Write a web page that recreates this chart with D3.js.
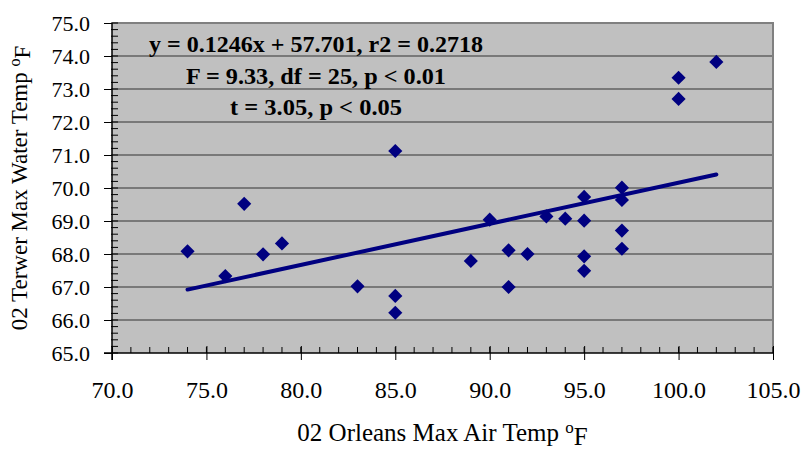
<!DOCTYPE html>
<html>
<head>
<meta charset="utf-8">
<script src="https://d3js.org/d3.v7.min.js"></script>
<style>
body { margin: 0; background: #fff; }
text { font-family: "Liberation Serif", "Times New Roman", serif; fill: #000; }
</style>
</head>
<body>
<div id="chart"></div>
<script>
// air temp (x) and water temp (y)
var airTemp = [74, 76, 77, 78, 79, 83, 85, 85, 85, 89, 90, 91, 91, 92, 93, 94,
               95, 95, 95, 95, 97, 97, 97, 97, 100, 100, 102];
var waterTemp = [68.08, 67.33, 69.52, 67.99, 68.32, 67.02, 66.73, 66.22, 71.12, 67.79, 69.04, 68.11, 67.0, 68.0, 69.14, 69.07,
                 69.73, 69.01, 67.93, 67.49, 70.01, 69.64, 68.71, 68.16, 73.34, 72.70, 73.82];
var xTicks = [70, 75, 80, 85, 90, 95, 100, 105];
var yTicks = [65, 66, 67, 68, 69, 70, 71, 72, 73, 74, 75];
var slope = 0.1246, intercept = 57.701;
var statLines = ["y = 0.1246x + 57.701, r2 = 0.2718", "F = 9.33, df = 25, p < 0.01", "t = 3.05, p < 0.05"];

var W = 805, H = 449;
var margin = {top: 23, right: 32, bottom: 96, left: 112};
var width = W - margin.left - margin.right,
    height = H - margin.top - margin.bottom;

var x = d3.scaleLinear().domain([70, 105]).range([0, width]);
var y = d3.scaleLinear().domain([65, 75]).range([height, 0]);

var svg = d3.select("#chart").append("svg")
    .attr("width", W)
    .attr("height", H)
  .append("g")
    .attr("transform", "translate(" + margin.left + "," + margin.top + ")");

// plot area
svg.append("rect")
    .attr("width", width)
    .attr("height", height)
    .attr("fill", "#c0c0c0");

// gridlines
svg.selectAll(".grid")
    .data(yTicks.filter(function(d) { return d > 65 && d < 75; }))
  .enter().append("line")
    .attr("x1", 0).attr("x2", width)
    .attr("y1", function(d) { return y(d); })
    .attr("y2", function(d) { return y(d); })
    .attr("stroke", "#333")
    .attr("stroke-width", 1.2);

// gray border top + right
svg.append("path")
    .attr("d", "M0," + y(75) + "H" + width + "V" + height)
    .attr("fill", "none")
    .attr("stroke", "#808080")
    .attr("stroke-width", 2);

// minor ticks
var yMinor = d3.range(65, 75.001, 0.2);
svg.selectAll(".ym")
    .data(yMinor)
  .enter().append("line")
    .attr("x1", -1).attr("x2", 6)
    .attr("y1", function(d) { return y(d); })
    .attr("y2", function(d) { return y(d); })
    .attr("stroke", "#000").attr("stroke-width", 1);
var xMinor = d3.range(70, 105.001, 1);
svg.selectAll(".xm")
    .data(xMinor)
  .enter().append("line")
    .attr("x1", function(d) { return x(d); })
    .attr("x2", function(d) { return x(d); })
    .attr("y1", height - 6).attr("y2", height)
    .attr("stroke", "#000").attr("stroke-width", 1);

// axes
var yAxis = d3.axisLeft(y).tickValues(yTicks).tickSize(8).tickPadding(14)
    .tickFormat(d3.format(".1f"));
var xAxis = d3.axisBottom(x).tickValues(xTicks).tickSize(7).tickPadding(21)
    .tickFormat(d3.format(".1f"));

var gy = svg.append("g").call(yAxis);
gy.select(".domain").attr("stroke-width", 1.5).attr("d", "M0,0V" + (height + 7));
gy.selectAll("text").style("font-size", "22px").attr("fill", "#000").attr("dy", "0.35em")
    .attr("font-family", null);

var gx = svg.append("g").attr("transform", "translate(0," + height + ")").call(xAxis);
gx.select(".domain").attr("stroke-width", 1.5).attr("d", "M-8,0H" + width);
gx.selectAll("text").style("font-size", "24px").attr("fill", "#000").attr("font-family", null);
gx.selectAll(".tick line").attr("y1", -7);

// trend line
var xr = d3.extent(airTemp);
svg.append("line")
    .attr("x1", x(xr[0])).attr("y1", y(slope * xr[0] + intercept))
    .attr("x2", x(xr[1])).attr("y2", y(slope * xr[1] + intercept))
    .attr("stroke", "#000080")
    .attr("stroke-width", 4)
    .attr("stroke-linecap", "round");

// points
var diamond = d3.symbol().type(d3.symbolSquare).size(100);
svg.selectAll(".dot")
    .data(airTemp)
  .enter().append("path")
    .attr("class", "dot")
    .attr("d", diamond)
    .attr("transform", function(d, i) {
      return "translate(" + x(d) + "," + y(waterTemp[i]) + ") rotate(45)";
    })
    .attr("fill", "#000080");

// stats text, centred block
var statY = [29, 61, 92], statW = [334, 260, 172];
svg.selectAll(".stat")
    .data(statLines)
  .enter().append("text")
    .attr("x", 204)
    .attr("y", function(d, i) { return statY[i]; })
    .attr("text-anchor", "middle")
    .attr("textLength", function(d, i) { return statW[i]; })
    .attr("lengthAdjust", "spacingAndGlyphs")
    .style("font-size", "23px")
    .style("font-weight", "bold")
    .text(function(d) { return d; });

// axis titles
var xt = svg.append("text")
    .attr("x", width / 2)
    .attr("y", height + 88)
    .attr("text-anchor", "middle")
    .style("font-size", "25px");
xt.append("tspan").text("02 Orleans Max Air Temp ");
xt.append("tspan").attr("dy", "-0.45em").style("font-size", "17px").text("o");
xt.append("tspan").attr("dy", "0.45em").text("F");

var yt = svg.append("text")
    .attr("transform", "translate(-85," + (height / 2) + ") rotate(-90)")
    .attr("text-anchor", "middle")
    .style("font-size", "23px");
yt.append("tspan").text("02 Terwer Max Water Temp ");
yt.append("tspan").attr("dy", "-0.45em").style("font-size", "16px").text("o");
yt.append("tspan").attr("dy", "0.45em").text("F");
</script>
</body>
</html>
